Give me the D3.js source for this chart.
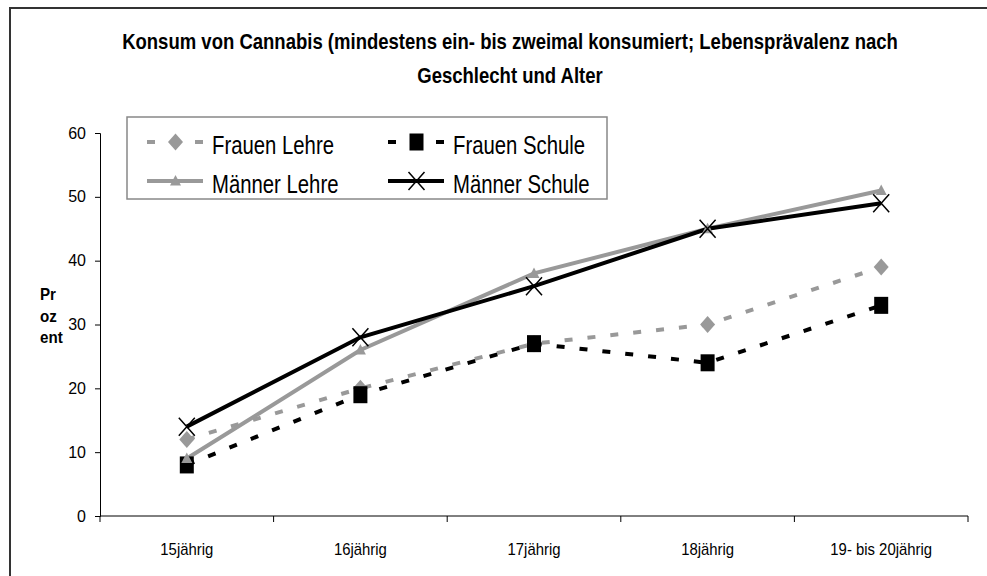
<!DOCTYPE html>
<html><head><meta charset="utf-8">
<script src="https://cdn.jsdelivr.net/npm/d3@7/dist/d3.min.js"></script>
<style>body{margin:0;background:#fff}svg{display:block;font-family:"Liberation Sans",Arial,sans-serif}</style>
</head><body><svg id="c" width="987" height="576"></svg>
<script>
const categories = ["15jährig","16jährig","17jährig","18jährig","19- bis 20jährig"];
const frauenLehre = [12,20,27,30,39];
const frauenSchule = [8,19,27,24,33];
const maennerLehre = [9,26,38,45,51];
const maennerSchule = [14,28,36,45,49];
const yTicks = [0,10,20,30,40,50,60];
const titleLines = ["Konsum von Cannabis (mindestens ein- bis zweimal konsumiert; Lebensprävalenz nach","Geschlecht und Alter"];
const yLabel = ["Pr","oz","ent"];

const series = [
  {name:"Frauen Lehre", values:frauenLehre, color:"#999999", dash:"8,15", marker:"diamond"},
  {name:"Frauen Schule", values:frauenSchule, color:"#000000", dash:"8,15", marker:"square"},
  {name:"Männer Lehre", values:maennerLehre, color:"#999999", dash:null, marker:"triangle"},
  {name:"Männer Schule", values:maennerSchule, color:"#000000", dash:null, marker:"x"}
];

const svg = d3.select("#c");
const L=100, R=968, T=133, B=516;
const x = d3.scaleBand().domain(categories).range([L,R]);
const y = d3.scaleLinear().domain([0,60]).range([B,T]);

function placed(parent, str, px, py, f, attrs){
  const g = parent.append("g").attr("transform",`translate(${px},${py}) scale(${f},1)`);
  const t = g.append("text").attr("x",0).attr("y",0).text(str);
  Object.entries(attrs).forEach(([k,v])=>t.attr(k,v));
  return t;
}
function widthOf(parent, str, attrs){
  const t = parent.append("text").text(str);
  Object.entries(attrs).forEach(([k,v])=>t.attr(k,v));
  const w = t.node().getComputedTextLength();
  t.remove();
  return w;
}

// outer border
svg.append("rect").attr("x",10).attr("y",8).attr("width",1000).attr("height",600)
  .attr("fill","none").attr("stroke","#333").attr("stroke-width",2);

// title
const tg = svg.append("g");
const tAttrs = {"font-size":22,"font-weight":"bold","text-anchor":"middle"};
const fT = 776/widthOf(tg, titleLines[0], {"font-size":22,"font-weight":"bold"});
titleLines.forEach((s,i)=>placed(tg, s, 510, 49+i*34, fT, tAttrs));

// y label
const yg = svg.append("g");
const yAttrs = {"font-size":17,"font-weight":"bold"};
const fY = 22.7/widthOf(yg, yLabel[2], yAttrs);
yLabel.forEach((s,i)=>placed(yg, s, 40, 300+i*21.5, fY, yAttrs));

// axes
const yAxis = d3.axisLeft(y).tickValues(yTicks).tickSize(5).tickPadding(9);
const gy = svg.append("g").attr("transform",`translate(${L},0)`).call(yAxis);
gy.select(".domain").attr("stroke","#000");
gy.selectAll(".tick line").attr("stroke","#000");
gy.selectAll("text").attr("font-size",16).attr("font-family","Liberation Sans, Arial").attr("fill","#000");

const xAxis = d3.axisBottom(x).tickSize(0).tickFormat("");
const gx = svg.append("g").attr("transform",`translate(0,${B})`).call(xAxis);
gx.select(".domain").attr("d",`M${L},0H${R}`).attr("stroke","#000");
const bounds = categories.map(c=>x(c)).concat([R]);
gx.append("g").selectAll("line").data(bounds).join("line")
  .attr("x1",d=>d).attr("x2",d=>d).attr("y1",0).attr("y2",6).attr("stroke","#000");
const xg = svg.append("g");
const fX = 53/widthOf(xg, categories[0], {"font-size":16});
categories.forEach(c=>placed(xg, c, x(c)+x.bandwidth()/2, 555, fX, {"font-size":16,"text-anchor":"middle"}));

// lines
const line = d3.line().x((d,i)=>x(categories[i])+x.bandwidth()/2).y(d=>y(d));
function drawMarker(g, type, cx, cy, color){
  if(type==="diamond"){
    g.append("path").attr("d",`M${cx},${cy-8.5}L${cx+7.5},${cy}L${cx},${cy+8.5}L${cx-7.5},${cy}Z`).attr("fill",color);
  } else if(type==="square"){
    g.append("rect").attr("x",cx-7).attr("y",cy-8.5).attr("width",14).attr("height",17).attr("fill",color);
  } else if(type==="triangle"){
    g.append("path").attr("d",`M${cx},${cy-6}L${cx+5.5},${cy+4.5}L${cx-5.5},${cy+4.5}Z`).attr("fill",color);
  } else {
    g.append("path").attr("d",`M${cx-8},${cy-9}L${cx+8},${cy+9}M${cx+8},${cy-9}L${cx-8},${cy+9}`).attr("stroke",color).attr("stroke-width",1.5).attr("fill","none");
  }
}
series.forEach(s=>{
  svg.append("path").attr("d",line(s.values)).attr("fill","none").attr("stroke",s.color)
    .attr("stroke-width",4).attr("stroke-dasharray",s.dash);
});
series.forEach(s=>{
  const g = svg.append("g");
  s.values.forEach((v,i)=>drawMarker(g,s.marker,x(categories[i])+x.bandwidth()/2,y(v),s.color));
});

// legend
const lg = svg.append("g");
lg.append("rect").attr("x",127).attr("y",117).attr("width",480).attr("height",82)
  .attr("fill","#fff").attr("stroke","#888").attr("stroke-width",1.5);
const pos = [[147,142],[388,142],[147,181],[388,181]];
const lAttrs = {"font-size":26};
const fL = 122/widthOf(lg, series[0].name, lAttrs);
series.forEach((s,i)=>{
  const [lx,ly] = pos[i];
  const g = lg.append("g");
  if(s.dash){
    g.append("line").attr("x1",lx).attr("x2",lx+8).attr("y1",ly).attr("y2",ly).attr("stroke",s.color).attr("stroke-width",4);
    g.append("line").attr("x1",lx+48).attr("x2",lx+56).attr("y1",ly).attr("y2",ly).attr("stroke",s.color).attr("stroke-width",4);
  } else {
    g.append("line").attr("x1",lx).attr("x2",lx+56).attr("y1",ly).attr("y2",ly).attr("stroke",s.color).attr("stroke-width",4);
  }
  drawMarker(g,s.marker,lx+28.5,ly,s.color);
  placed(g, s.name, lx+65, ly+12, fL, lAttrs);
});
</script></body></html>
